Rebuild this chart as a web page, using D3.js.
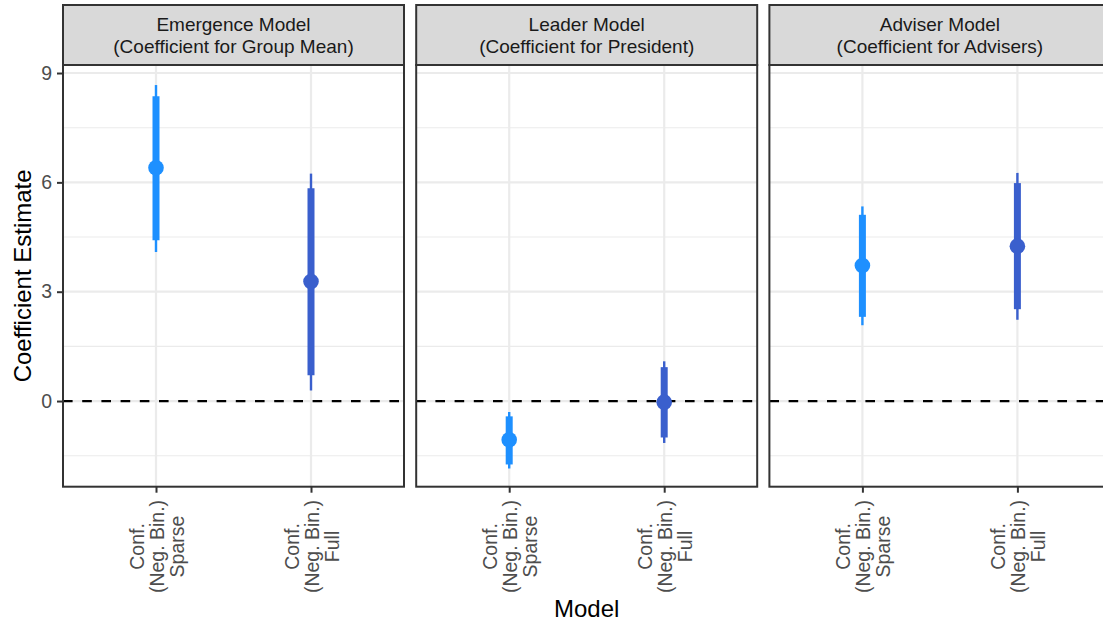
<!DOCTYPE html>
<html>
<head>
<meta charset="utf-8">
<script src="https://cdn.jsdelivr.net/npm/d3@7"></script>
<style>
  html, body { margin: 0; padding: 0; background: #ffffff; }
  svg { display: block; font-family: "Liberation Sans", Arial, sans-serif; }
</style>
</head>
<body>
<svg id="chart" width="1103" height="622"></svg>
<script>
// Facet titles (two lines each)
const panelTitles = [
  ["Emergence Model", "(Coefficient for Group Mean)"],
  ["Leader Model", "(Coefficient for President)"],
  ["Adviser Model", "(Coefficient for Advisers)"]
];

// Model specifications on the x axis
const models = ["Sparse", "Full"];
const modelLabelLines = [
  ["Conf.", "(Neg. Bin.)", "Sparse"],
  ["Conf.", "(Neg. Bin.)", "Full"]
];

// Point estimates per panel, [Sparse, Full]
const estimate  = [[6.40, 3.28], [-1.06, -0.03], [3.72, 4.25]];
// Inner interval (thick segment)
const innerLow  = [[4.41, 0.71], [-1.74, -1.00], [2.31, 2.52]];
const innerHigh = [[8.36, 5.84], [-0.42, 0.93], [5.11, 5.98]];
// Outer interval (thin segment)
const outerLow  = [[4.09, 0.29], [-1.85, -1.15], [2.08, 2.23]];
const outerHigh = [[8.67, 6.24], [-0.30, 1.09], [5.34, 6.26]];

const yTicks = [0, 3, 6, 9];
const yMinor = [-1.5, 1.5, 4.5, 7.5];

const modelColors = { Sparse: "#1E90FF", Full: "#3A5FCD" };

// ---- layout ----
const svg = d3.select("#chart");
const panelW = 341;
const panelStep = 353.2;
const panelX0 = 63;
const stripTop = 5, stripBottom = 65;
const plotTop = 65, plotBottom = 486.7;

const y = d3.scaleLinear().domain([-2.35, 9.22]).range([plotBottom, plotTop]);

const axisColor = "#333333";
const tickText = "#4d4d4d";

panelTitles.forEach((title, p) => {
  const left = panelX0 + p * panelStep;
  // two points with padding 0.6 steps on each side
  const x = d3.scalePoint().domain(models).range([left, left + panelW]).padding(0.6);

  const g = svg.append("g");

  // panel background
  g.append("rect")
    .attr("x", left).attr("y", plotTop)
    .attr("width", panelW).attr("height", plotBottom - plotTop)
    .attr("fill", "#ffffff");

  // minor grid
  g.selectAll(".minor").data(yMinor).join("line")
    .attr("x1", left).attr("x2", left + panelW)
    .attr("y1", d => y(d)).attr("y2", d => y(d))
    .attr("stroke", "#ebebeb").attr("stroke-width", 1.1);

  // major grid (horizontal)
  g.selectAll(".major").data(yTicks).join("line")
    .attr("x1", left).attr("x2", left + panelW)
    .attr("y1", d => y(d)).attr("y2", d => y(d))
    .attr("stroke", "#ebebeb").attr("stroke-width", 2.2);

  // major grid (vertical)
  g.selectAll(".vmajor").data(models).join("line")
    .attr("x1", d => x(d)).attr("x2", d => x(d))
    .attr("y1", plotTop).attr("y2", plotBottom)
    .attr("stroke", "#ebebeb").attr("stroke-width", 2.2);

  // reference line at zero
  g.append("line")
    .attr("x1", left).attr("x2", left + panelW)
    .attr("y1", y(0)).attr("y2", y(0))
    .attr("stroke", "#000000").attr("stroke-width", 2.2)
    .attr("stroke-dasharray", "9.6,9.6");

  // intervals and points
  const rows = models.map((m, i) => ({
    model: m,
    est: estimate[p][i],
    ilo: innerLow[p][i], ihi: innerHigh[p][i],
    olo: outerLow[p][i], ohi: outerHigh[p][i]
  }));

  g.selectAll(".outer").data(rows).join("line")
    .attr("x1", d => x(d.model)).attr("x2", d => x(d.model))
    .attr("y1", d => y(d.olo)).attr("y2", d => y(d.ohi))
    .attr("stroke", d => modelColors[d.model]).attr("stroke-width", 2.4);

  g.selectAll(".inner").data(rows).join("line")
    .attr("x1", d => x(d.model)).attr("x2", d => x(d.model))
    .attr("y1", d => y(d.ilo)).attr("y2", d => y(d.ihi))
    .attr("stroke", d => modelColors[d.model]).attr("stroke-width", 7);

  g.selectAll(".pt").data(rows).join("circle")
    .attr("cx", d => x(d.model)).attr("cy", d => y(d.est))
    .attr("r", 7.8)
    .attr("fill", d => modelColors[d.model]);

  // panel border
  g.append("rect")
    .attr("x", left).attr("y", plotTop)
    .attr("width", panelW).attr("height", plotBottom - plotTop)
    .attr("fill", "none").attr("stroke", axisColor).attr("stroke-width", 2);

  // strip
  g.append("rect")
    .attr("x", left).attr("y", stripTop)
    .attr("width", panelW).attr("height", stripBottom - stripTop)
    .attr("fill", "#d9d9d9").attr("stroke", axisColor).attr("stroke-width", 2);

  const cx = left + panelW / 2;
  const st = g.append("text")
    .attr("text-anchor", "middle")
    .attr("font-size", "19px").attr("fill", "#1a1a1a");
  st.append("tspan").attr("x", cx).attr("y", 30.6).text(title[0]);
  st.append("tspan").attr("x", cx).attr("y", 52.8).text(title[1]);

  // x axis ticks
  const xAxis = d3.axisBottom(x).tickSize(6).tickFormat("");
  const ax = g.append("g").attr("transform", `translate(0,${plotBottom})`).call(xAxis);
  ax.select(".domain").remove();
  ax.selectAll(".tick line").attr("stroke", axisColor).attr("stroke-width", 2);

  // rotated multi-line tick labels
  models.forEach((m, i) => {
    const t = g.append("text")
      .attr("transform", `translate(${x(m)},546.5) rotate(-90)`)
      .attr("text-anchor", "middle")
      .attr("font-size", "19.5px").attr("fill", tickText);
    modelLabelLines[i].forEach((line, k) => {
      t.append("tspan").attr("x", 0).attr("y", -12.3 + k * 20).text(line);
    });
  });

  // y axis on the first panel only
  if (p === 0) {
    const yAxis = d3.axisLeft(y).tickValues(yTicks).tickSize(6).tickPadding(5);
    const ay = g.append("g").attr("transform", `translate(${left},0)`).call(yAxis);
    ay.select(".domain").remove();
    ay.selectAll(".tick line").attr("stroke", axisColor).attr("stroke-width", 2);
    ay.selectAll(".tick text")
      .attr("font-size", "19.5px").attr("fill", tickText)
      .attr("font-family", "Liberation Sans, Arial, sans-serif");
  }
});

// axis titles
svg.append("text")
  .attr("x", panelX0 + (2 * panelStep + panelW) / 2).attr("y", 617)
  .attr("text-anchor", "middle")
  .attr("font-size", "24px").attr("fill", "#000000")
  .text("Model");

svg.append("text")
  .attr("transform", `translate(31,${(plotTop + plotBottom) / 2}) rotate(-90)`)
  .attr("text-anchor", "middle")
  .attr("font-size", "24px").attr("fill", "#000000")
  .text("Coefficient Estimate");
</script>
</body>
</html>
